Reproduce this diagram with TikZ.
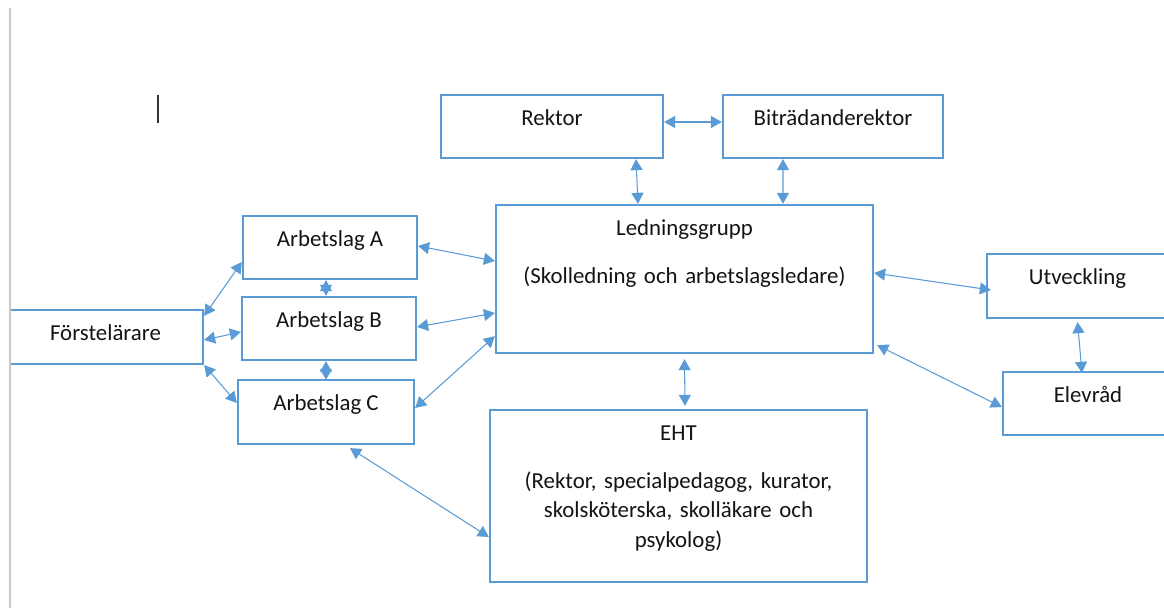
\documentclass[tikz,border=0pt]{standalone}
\usepackage{fontspec}
\setmainfont{Carlito}
\usepackage{tikz}
\usetikzlibrary{arrows.meta, positioning, calc}
\definecolor{myblue}{RGB}{91,155,213}
\definecolor{mytext}{RGB}{20,20,20}
\definecolor{mymargin}{RGB}{200,200,200}
\definecolor{mycursor}{RGB}{50,50,50}
\tikzset{
  orgbox/.style={rectangle, draw=myblue, fill=white, line width=1.3pt,
    align=center, text=mytext, font=\fontsize{13pt}{16.8pt}\selectfont,
    text height=0.3cm, inner sep=0pt},
  biarrow/.style={{Triangle[length=0.22cm,width=0.24cm]}-{Triangle[length=0.22cm,width=0.24cm]},
    line width=0.6pt, color=myblue}
}

\begin{document}
\begin{tikzpicture}
  \useasboundingbox (0,0) rectangle (23.28,12.16);

  % Blocks
  \begin{scope}
    \clip (0.2,0) rectangle (23.28,12.16);
    \node[orgbox, minimum width=4.44cm, minimum height=1.26cm, text depth=0.32cm] (rektor) at (11.04, 9.63) {Rektor};

    \node[orgbox, minimum width=4.40cm, minimum height=1.26cm, text depth=0.32cm] (bitr) at (16.66, 9.63) {Biträdanderektor};

    \node[orgbox, minimum width=7.54cm, minimum height=2.96cm, text width=7cm, text depth=2.02cm] (ledning) at (13.69, 6.58) {Ledningsgrupp\\[0.35cm](Skolledning och arbetslagsledare)};

    \node[orgbox, minimum width=3.48cm, minimum height=1.26cm, text depth=0.32cm] (arbA) at (6.60, 7.21) {Arbetslag A};

    \node[orgbox, minimum width=3.48cm, minimum height=1.26cm, text depth=0.32cm] (arbB) at (6.58, 5.59) {Arbetslag B};

    \node[orgbox, minimum width=3.52cm, minimum height=1.28cm, text depth=0.34cm] (arbC) at (6.52, 3.92) {Arbetslag C};

    \node[orgbox, minimum width=3.90cm, minimum height=1.08cm, text depth=0.14cm] (forst) at (2.11, 5.42) {Förstelärare};

    \node[orgbox, minimum width=3.62cm, minimum height=1.28cm, text depth=0.34cm] (utv) at (21.55, 6.44) {Utveckling};

    \node[orgbox, minimum width=3.40cm, minimum height=1.26cm, text depth=0.32cm] (elev) at (21.76, 4.09) {Elevråd};

    \node[orgbox, minimum width=7.54cm, minimum height=3.44cm, text width=7cm, text depth=2.50cm] (eht) at (13.57, 2.24) {EHT\\[0.35cm](Rektor, specialpedagog, kurator,\\skolsköterska, skolläkare och\\psykolog)};
  \end{scope}

  % Page margin and cursor
  \draw[mymargin, line width=0.8pt] (0.2, 12.0) -- (0.2, 0);
  \draw[mycursor, line width=1pt] (3.16, 10.26) -- (3.16, 9.70);

  % Flows
  \draw[biarrow] ([yshift=0.09cm]rektor.east) -- ([yshift=0.09cm]bitr.west);
  \draw[biarrow] ([xshift=1.68cm]rektor.south) -- ([xshift=-0.93cm]ledning.north);
  \draw[biarrow] ([xshift=-1.0cm]bitr.south) -- ([xshift=1.97cm]ledning.north);

  \draw[biarrow] ([yshift=0.03cm]arbA.east) -- ([yshift=0.36cm]ledning.west);
  \draw[biarrow] ([yshift=0.03cm]arbB.east) -- ([yshift=-0.68cm]ledning.west);
  \draw[biarrow] ([yshift=0.08cm]arbC.east) -- ([yshift=0.36cm]ledning.south west);

  \draw[biarrow] ([xshift=-0.08cm]arbA.south) -- ([xshift=-0.06cm]arbB.north);
  \draw[biarrow] ([xshift=-0.06cm]arbB.south) -- ([yshift=-0.02cm]arbC.north);

  \draw[biarrow] ([yshift=-0.14cm]forst.north east) -- ([yshift=-0.29cm]arbA.west);
  \draw[biarrow] ([yshift=-0.06cm]forst.east) -- ([yshift=-0.07cm]arbB.west);
  \draw[biarrow] (forst.south east) -- ([yshift=0.18cm]arbC.west);

  \draw[biarrow] ([xshift=0.48cm,yshift=-0.06cm]arbC.south) -- ([yshift=-0.82cm]eht.west);
  \draw[biarrow] ([yshift=-0.1cm]ledning.south) -- ([xshift=0.13cm,yshift=0.06cm]eht.north);

  \draw[biarrow] ([yshift=0.12cm]ledning.east) -- ([xshift=0.1cm,yshift=-0.08cm]utv.west);
  \draw[biarrow] ([xshift=0.06cm,yshift=0.18cm]ledning.south east) -- ([yshift=-0.07cm]elev.west);
  \draw[biarrow] ([yshift=-0.06cm]utv.south) -- ([xshift=-0.12cm,yshift=-0.04cm]elev.north);
\end{tikzpicture}
\end{document}
